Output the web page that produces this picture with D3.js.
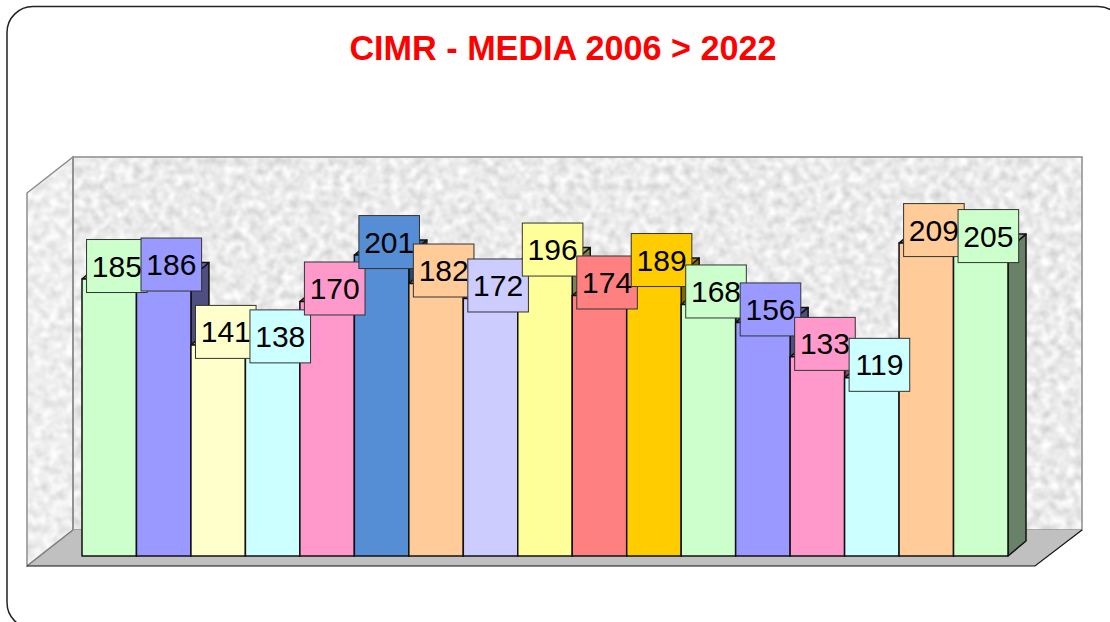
<!DOCTYPE html>
<html><head><meta charset="utf-8">
<script src="https://cdn.jsdelivr.net/npm/d3@7"></script>
<style>html,body{margin:0;padding:0;background:#fff;overflow:hidden}svg{display:block}</style>
</head><body><svg id="c" width="1110" height="622"></svg>
<script>
const years = ["2006","2007","2008","2009","2010","2011","2012","2013","2014","2015","2016","2017","2018","2019","2020","2021","2022"];
const values = [185,186,141,138,170,201,182,172,196,174,189,168,156,133,119,209,205];
const colors = ["#CCFFCC","#9999FF","#FFFFCC","#CCFFFF","#FF99CC","#558ED5","#FFCC99","#CCCCFF","#FFFF99","#FF8080","#FFCC00","#CCFFCC","#9999FF","#FF99CC","#CCFFFF","#FFCC99","#CCFFCC"];
const titleText = "CIMR - MEDIA 2006 > 2022";

const svg = d3.select("#c");
const x = d3.scaleBand().domain(years).range([82,1008]).padding(0);
const y = d3.scaleLinear().domain([0,250]).range([556,181.7]);
const depthX = 18, depthY = -15;

const defs = svg.append("defs");
const f = defs.append("filter").attr("id","stone").attr("x",0).attr("y",0).attr("width","100%").attr("height","100%").attr("color-interpolation-filters","sRGB");
f.append("feTurbulence").attr("type","fractalNoise").attr("baseFrequency",0.12).attr("numOctaves",3).attr("seed",7);
f.append("feColorMatrix").attr("type","matrix").attr("values","0.3 0 0 0 0.77  0.3 0 0 0 0.77  0.3 0 0 0 0.77  0 0 0 0 1");
f.append("feGaussianBlur").attr("stdDeviation",1.1);

// outer frame
svg.append("rect").attr("x",7).attr("y",6.5).attr("width",1117).attr("height",622).attr("rx",26)
  .attr("fill","#fff").attr("stroke","#222").attr("stroke-width",1.5);

svg.append("text").attr("x",563).attr("y",60).attr("text-anchor","middle")
  .attr("font-family","'Liberation Sans',Arial,sans-serif").attr("font-weight","bold").attr("font-size",34.2)
  .attr("fill","#FF0000").text(titleText);

// walls
const wallGrey = "#8c8c8c";
defs.append("clipPath").attr("id","wallClip").append("polygon").attr("points","27,193 73,157 1082,157 1082,530 73,530 27,566");
svg.append("rect").attr("x",27).attr("y",157).attr("width",1055).attr("height",409)
  .attr("filter","url(#stone)").attr("clip-path","url(#wallClip)");
svg.append("polygon").attr("points","27,193 73,157 73,530 27,566").attr("fill","#fff").attr("fill-opacity",0.2)
  .attr("stroke",wallGrey).attr("stroke-width",1.5);
svg.append("rect").attr("x",73).attr("y",157).attr("width",1009).attr("height",373)
  .attr("fill","none").attr("stroke",wallGrey).attr("stroke-width",1.5);
svg.append("polygon").attr("points","27,566 73,530 1082,530 1035,566").attr("fill","#C0C0C0");
svg.append("path").attr("d","M73,530L27,566").attr("stroke","#808080").attr("stroke-width",1.5);
svg.append("path").attr("d","M27,566L1035,566L1082,530").attr("fill","none").attr("stroke","#111").attr("stroke-width",1.2);

// bars
const data = years.map((k,i)=>({k,v:values[i],c:colors[i]}));
const bars = svg.append("g").attr("stroke","#111").attr("stroke-width",1.5).attr("stroke-linejoin","round")
  .selectAll("g").data(data).join("g");
bars.append("polygon").attr("fill",d=>d3.rgb(d.c).darker(1.9))
  .attr("points",d=>{const r=x(d.k)+x.bandwidth(),t=y(d.v);return [[r,t],[r+depthX,t+depthY],[r+depthX,y(0)+depthY],[r,y(0)]].join(" ");});
bars.append("polygon").attr("fill",d=>d3.rgb(d.c).darker(1.2))
  .attr("points",d=>{const l=x(d.k),r=l+x.bandwidth(),t=y(d.v);return [[l,t],[l+depthX,t+depthY],[r+depthX,t+depthY],[r,t]].join(" ");});
bars.append("rect").attr("x",d=>x(d.k)).attr("y",d=>y(d.v)).attr("width",x.bandwidth()).attr("height",d=>y(0)-y(d.v)).attr("fill",d=>d.c);

// value labels
const labels = svg.append("g").selectAll("g").data(data).join("g")
  .attr("transform",d=>`translate(${x(d.k)+x.bandwidth()/2+7.6},${y(d.v)-13})`);
labels.append("rect").attr("x",-30.3).attr("y",-26.5).attr("width",60.6).attr("height",53)
  .attr("fill",d=>d.c).attr("stroke","#333").attr("stroke-width",1);
labels.append("text").attr("text-anchor","middle").attr("y",10.5)
  .attr("font-family","'Liberation Sans',Arial,sans-serif").attr("font-size",30).attr("fill","#000")
  .text(d=>d.v);
</script></body></html>
